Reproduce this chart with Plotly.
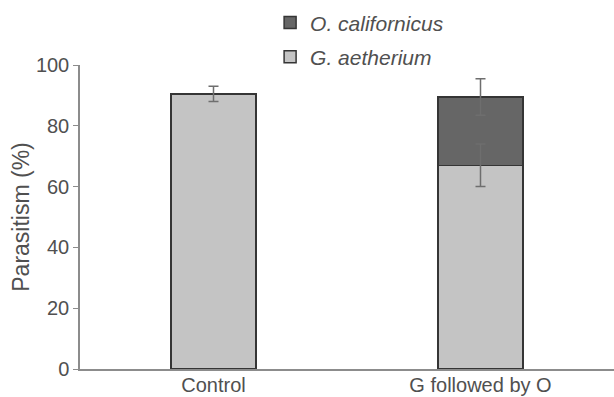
import plotly.graph_objects as go

categories = ["Control", "G followed by O"]
g_values = [90.5, 67.0]
g_errors = [2.5, 7.0]
o_values = [0, 22.5]
o_errors = [0, 6.0]
y_ticks = [0, 20, 40, 60, 80, 100]

o_tops = [g + o for g, o in zip(g_values, o_values)]

fig = go.Figure()
fig.add_trace(go.Bar(
    x=categories, y=g_values, name="<i>G. aetherium</i>",
    marker=dict(color="#c4c4c4", line=dict(color="#353535", width=1.5)),
    width=0.32, legendgroup="g", legendrank=2,
))
fig.add_trace(go.Bar(
    x=categories, y=o_values, name="<i>O. californicus</i>",
    marker=dict(color="#666666", line=dict(color="#353535", width=1.5)),
    width=0.32, legendgroup="o", legendrank=1,
))
# error bars drawn on top of all bars
fig.add_trace(go.Scatter(
    x=categories, y=g_values, mode="markers", marker=dict(size=1, opacity=0),
    error_y=dict(type="data", array=g_errors, color="#6e6e6e", thickness=1.5, width=5),
    showlegend=False, hoverinfo="skip",
))
fig.add_trace(go.Scatter(
    x=categories[1:], y=o_tops[1:], mode="markers", marker=dict(size=1, opacity=0),
    error_y=dict(type="data", array=o_errors[1:], color="#6e6e6e", thickness=1.5, width=5),
    showlegend=False, hoverinfo="skip",
))

fig.update_layout(
    barmode="stack",
    width=614, height=397,
    margin=dict(l=80, r=0, t=65, b=28, autoexpand=False),
    plot_bgcolor="white", paper_bgcolor="white",
    font=dict(family="Liberation Sans, Arial, sans-serif", color="#505050", size=20),
    showlegend=True,
    legend=dict(x=0.356, y=1.206, xanchor="left", yanchor="top",
                traceorder="grouped", tracegroupgap=4,
                font=dict(size=21, color="#505050"), bgcolor="rgba(0,0,0,0)"),
    xaxis=dict(range=[-0.5, 1.5], showline=True, linecolor="#8c8c8c", linewidth=1.5,
               ticks="", tickfont=dict(size=20), ticklabelstandoff=-3),
    yaxis=dict(range=[0, 100], tickvals=y_ticks, showline=True, linecolor="#8c8c8c",
               linewidth=1.5, ticks="outside", tickcolor="#8c8c8c", ticklen=5,
               showgrid=False, zeroline=False, tickfont=dict(size=20),
               title=dict(text="Parasitism (%)", font=dict(size=23), standoff=0)),
)

fig.write_html("out.html", config={"displayModeBar": False},
               post_script="document.body.style.margin='0px';")
